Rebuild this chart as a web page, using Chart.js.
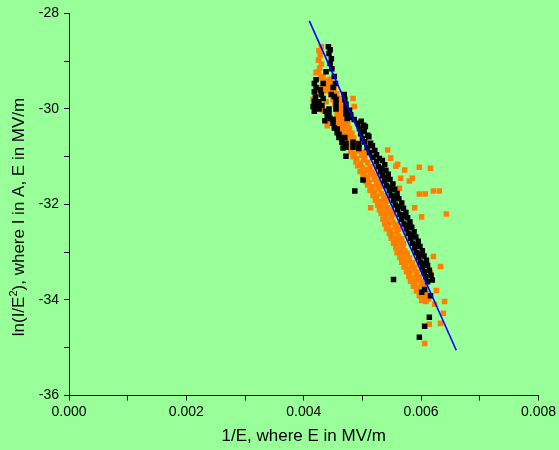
<!DOCTYPE html>
<html>
<head>
<meta charset="utf-8">
<script src="https://cdn.jsdelivr.net/npm/chart.js@4.4.1/dist/chart.umd.min.js"></script>
<style>
  html, body { margin: 0; padding: 0; background: #99FF99; }
  #wrap { width: 559px; height: 450px; }
</style>
</head>
<body>
<div id="wrap"><canvas id="fn" width="559" height="450"></canvas></div>
<script>
// Fowler-Nordheim plot: ln(I/E^2) against 1/E, two measurement runs plus fitted line

// axis ranges / ticks
var xMin = 0, xMax = 0.008, xStep = 0.001;
var yMin = -36, yMax = -28, yStep = 1;

var xTitle = '1/E, where E in MV/m';
var yTitleHead = 'ln(I/E', yTitleSup = '2', yTitleTail = '), where I in A, E in MV/m';

// run 1 (black)
var blackPoints = [
  [0.00442, -28.70], [0.00445, -28.76], [0.00443, -28.84], [0.00447, -28.95], [0.00445, -29.05],
  [0.00448, -29.16], [0.00438, -29.22], [0.00452, -29.32], [0.00433, -29.47], [0.00454, -29.47],
  [0.00450, -29.55], [0.00430, -29.70], [0.00447, -29.70], [0.00452, -29.74], [0.00469, -29.70],
  [0.00455, -29.80], [0.00470, -29.80], [0.00455, -29.90], [0.00472, -29.90], [0.00455, -30.00],
  [0.00472, -30.00], [0.00478, -30.03], [0.00472, -30.10], [0.00480, -30.12], [0.00474, -30.20],
  [0.00480, -30.18], [0.00486, -30.22],
  [0.00492, -30.30], [0.00498, -30.26], [0.00502, -30.34],
  [0.00495, -30.41], [0.00505, -30.37],
  [0.00497, -30.52], [0.00503, -30.47], [0.00509, -30.55],
  [0.00500, -30.62], [0.00511, -30.58],
  [0.00484, -30.70], [0.00494, -30.73], [0.00504, -30.69], [0.00514, -30.72],
  [0.00484, -30.80], [0.00494, -30.83], [0.00508, -30.81], [0.00517, -30.77],
  [0.00512, -30.91], [0.00521, -30.87],
  [0.00518, -31.01], [0.00524, -30.96], [0.00529, -31.04],
  [0.00524, -31.10], [0.00534, -31.08],
  [0.00527, -31.21], [0.00533, -31.24], [0.00538, -31.17],
  [0.00531, -31.31], [0.00540, -31.29],
  [0.00534, -31.40], [0.00540, -31.44], [0.00544, -31.37],
  [0.00538, -31.51], [0.00547, -31.48],
  [0.00541, -31.61], [0.00546, -31.64], [0.00552, -31.57],
  [0.00546, -31.71], [0.00555, -31.68],
  [0.00549, -31.81], [0.00554, -31.84], [0.00559, -31.77],
  [0.00553, -31.91], [0.00562, -31.88],
  [0.00556, -32.01], [0.00561, -32.04], [0.00567, -31.97],
  [0.00560, -32.11], [0.00570, -32.08],
  [0.00564, -32.21], [0.00568, -32.24], [0.00574, -32.17],
  [0.00567, -32.31], [0.00577, -32.28],
  [0.00571, -32.41], [0.00575, -32.44], [0.00581, -32.37],
  [0.00575, -32.51], [0.00584, -32.48],
  [0.00578, -32.61], [0.00583, -32.64], [0.00588, -32.57],
  [0.00582, -32.71], [0.00591, -32.68],
  [0.00585, -32.81], [0.00590, -32.84], [0.00595, -32.77],
  [0.00589, -32.91], [0.00598, -32.88],
  [0.00592, -33.01], [0.00597, -33.04], [0.00602, -32.97],
  [0.00596, -33.11], [0.00605, -33.08],
  [0.00599, -33.21], [0.00604, -33.24], [0.00609, -33.17],
  [0.00602, -33.31], [0.00611, -33.28],
  [0.00605, -33.41], [0.00614, -33.38],
  [0.00608, -33.51], [0.00617, -33.48],
  [0.00611, -33.62], [0.00619, -33.58],
  // left-hand strand of the upper cluster
  [0.00421, -29.39], [0.00418, -29.47], [0.00421, -29.55], [0.00418, -29.64], [0.00420, -29.75],
  [0.00418, -29.84], [0.00416, -29.95], [0.00423, -29.95], [0.00418, -30.05], [0.00426, -30.00],
  [0.00428, -29.60], [0.00433, -29.78], [0.00426, -29.85], [0.00431, -29.93], [0.00437, -30.05],
  [0.00440, -30.15], [0.00436, -30.25],
  [0.00443, -30.00], [0.00443, -30.10], [0.00445, -30.20], [0.00450, -30.22], [0.00450, -30.30],
  [0.00452, -30.40], [0.00457, -30.42], [0.00457, -30.50], [0.00460, -30.53], [0.00460, -30.60],
  [0.00465, -30.62], [0.00470, -30.60], [0.00465, -30.70], [0.00472, -30.72], [0.00467, -30.82],
  [0.00472, -30.80], [0.00472, -30.99],
  // stray points
  [0.00487, -31.72], [0.00501, -31.49], [0.00553, -33.57], [0.00601, -33.84], [0.00616, -33.91],
  [0.00606, -33.78], [0.00614, -34.36], [0.00606, -34.55], [0.00597, -34.78]
];

// run 2 (orange)
var orangePoints = [
  [0.00430, -28.70], [0.00426, -28.78], [0.00428, -28.88], [0.00425, -28.98], [0.00430, -29.06],
  [0.00427, -29.15], [0.00425, -29.22], [0.00421, -29.24], [0.00433, -29.32], [0.00429, -29.35],
  [0.00435, -29.40], [0.00441, -29.43], [0.00445, -29.38],
  [0.00438, -29.50], [0.00444, -29.53], [0.00449, -29.48],
  [0.00430, -29.55], [0.00436, -29.62], [0.00425, -29.70], [0.00438, -29.85], [0.00432, -30.02],
  [0.00446, -30.30], [0.00440, -30.35],
  [0.00442, -29.60], [0.00447, -29.62], [0.00452, -29.58],
  [0.00446, -29.70], [0.00451, -29.73], [0.00456, -29.68],
  [0.00416, -29.80], [0.00450, -29.80], [0.00455, -29.83], [0.00460, -29.78], [0.00484, -29.78],
  [0.00418, -29.90], [0.00453, -29.90], [0.00458, -29.92], [0.00464, -29.88], [0.00486, -29.95],
  [0.00455, -30.00], [0.00460, -30.03], [0.00466, -29.98],
  [0.00457, -30.10], [0.00462, -30.12], [0.00468, -30.08],
  [0.00456, -30.20], [0.00461, -30.22], [0.00467, -30.18], [0.00472, -30.21],
  [0.00458, -30.30], [0.00464, -30.33], [0.00470, -30.28], [0.00475, -30.31],
  [0.00461, -30.40], [0.00467, -30.42], [0.00473, -30.38], [0.00478, -30.41],
  [0.00464, -30.50], [0.00470, -30.53], [0.00476, -30.48], [0.00482, -30.51],
  [0.00466, -30.60], [0.00472, -30.62], [0.00478, -30.58], [0.00485, -30.61],
  [0.00470, -30.70], [0.00476, -30.73], [0.00482, -30.68], [0.00489, -30.71],
  [0.00474, -30.80], [0.00480, -30.82], [0.00487, -30.78], [0.00494, -30.81],
  [0.00480, -30.90], [0.00486, -30.93], [0.00493, -30.88], [0.00500, -30.91], [0.00507, -30.89],
  [0.00484, -31.00], [0.00490, -31.04], [0.00499, -30.97], [0.00504, -31.01],
  [0.00489, -31.11], [0.00497, -31.14], [0.00502, -31.07], [0.00509, -31.12],
  [0.00492, -31.19], [0.00500, -31.23], [0.00513, -31.21],
  [0.00496, -31.31], [0.00503, -31.34], [0.00508, -31.27], [0.00517, -31.32],
  [0.00501, -31.41], [0.00509, -31.43], [0.00514, -31.37], [0.00521, -31.40],
  [0.00506, -31.52], [0.00511, -31.54], [0.00520, -31.47], [0.00527, -31.51], [0.00533, -31.49],
  [0.00509, -31.59], [0.00517, -31.63], [0.00524, -31.58], [0.00530, -31.62],
  [0.00513, -31.71], [0.00521, -31.74], [0.00528, -31.67],
  [0.00518, -31.81], [0.00524, -31.83], [0.00532, -31.77], [0.00538, -31.82],
  [0.00522, -31.91], [0.00530, -31.94], [0.00536, -31.87], [0.00542, -31.92],
  [0.00526, -32.01], [0.00534, -32.03], [0.00539, -31.97],
  [0.00529, -32.11], [0.00537, -32.14], [0.00543, -32.07], [0.00548, -32.12],
  [0.00532, -32.19], [0.00539, -32.23], [0.00546, -32.17], [0.00551, -32.22],
  [0.00535, -32.31], [0.00542, -32.34], [0.00549, -32.27],
  [0.00538, -32.41], [0.00544, -32.43], [0.00552, -32.37], [0.00558, -32.42],
  [0.00541, -32.51], [0.00548, -32.54], [0.00556, -32.47], [0.00561, -32.52],
  [0.00546, -32.61], [0.00552, -32.63], [0.00559, -32.57],
  [0.00549, -32.71], [0.00556, -32.74], [0.00562, -32.67], [0.00567, -32.72],
  [0.00553, -32.81], [0.00560, -32.83], [0.00565, -32.77], [0.00570, -32.82],
  [0.00557, -32.91], [0.00563, -32.94], [0.00569, -32.87],
  [0.00559, -33.01], [0.00566, -33.03], [0.00572, -32.97], [0.00576, -33.02],
  [0.00564, -33.11], [0.00570, -33.14], [0.00576, -33.07], [0.00580, -33.12],
  [0.00567, -33.21], [0.00574, -33.23], [0.00580, -33.17], [0.00585, -33.22],
  [0.00571, -33.31], [0.00578, -33.34], [0.00584, -33.27], [0.00589, -33.32],
  [0.00575, -33.41], [0.00581, -33.43], [0.00588, -33.37], [0.00593, -33.42],
  [0.00579, -33.51], [0.00586, -33.54], [0.00592, -33.47], [0.00597, -33.52],
  [0.00582, -33.61], [0.00589, -33.63], [0.00596, -33.57], [0.00601, -33.62],
  [0.00587, -33.71], [0.00594, -33.74], [0.00600, -33.67], [0.00605, -33.72],
  [0.00592, -33.81], [0.00599, -33.83], [0.00604, -33.77],
  [0.00597, -33.91], [0.00603, -33.93], [0.00609, -33.87],
  [0.00601, -34.01], [0.00608, -34.03], [0.00613, -33.97],
  // stray points
  [0.00543, -30.86], [0.00548, -31.03], [0.00557, -31.20], [0.00560, -31.16], [0.00597, -31.22],
  [0.00616, -31.24], [0.00572, -31.28], [0.00565, -31.45], [0.00580, -31.51], [0.00585, -31.45],
  [0.00597, -31.78], [0.00607, -31.78], [0.00621, -31.72], [0.00631, -31.72], [0.00563, -31.66],
  [0.00514, -32.07], [0.00589, -32.07], [0.00601, -32.26], [0.00643, -32.20], [0.00621, -33.09],
  [0.00633, -33.30], [0.00616, -33.43], [0.00611, -33.99], [0.00626, -33.80], [0.00640, -34.03],
  [0.00623, -34.09], [0.00638, -34.28], [0.00614, -34.51], [0.00633, -34.49], [0.00606, -34.91]
];

// linear fit, end points
var fitLine = [[0.004095, -28.156], [0.006599, -35.052]];

var bgColor = '#99FF99';
var tickFont = { family: '"Liberation Sans", Arial, sans-serif', size: 14 };
var titleFontSize = 17;

var axisTitles = {
    id: 'axisTitles',
    beforeDraw: function (chart) {
        var ctx = chart.ctx;
        ctx.save();
        ctx.fillStyle = bgColor;
        ctx.fillRect(0, 0, chart.width, chart.height);
        ctx.restore();
    },
    afterDraw: function (chart) {
        var ctx = chart.ctx, area = chart.chartArea;
        var big = titleFontSize + 'px "Liberation Sans", Arial, sans-serif';
        var small = '11px "Liberation Sans", Arial, sans-serif';
        ctx.save();
        ctx.fillStyle = '#000';
        ctx.textBaseline = 'alphabetic';

        ctx.font = big;
        ctx.textAlign = 'center';
        ctx.fillText(xTitle, (area.left + area.right) / 2, 441);

        // y title with the superscript drawn raised
        ctx.translate(24, 217);
        ctx.rotate(-Math.PI / 2);
        ctx.textAlign = 'left';
        var w1 = ctx.measureText(yTitleHead).width;
        var w3 = ctx.measureText(yTitleTail).width;
        ctx.font = small;
        var w2 = ctx.measureText(yTitleSup).width;
        var start = -(w1 + w2 + w3) / 2;
        ctx.font = big;
        ctx.fillText(yTitleHead, start, 0);
        ctx.font = small;
        ctx.fillText(yTitleSup, start + w1, -7);
        ctx.font = big;
        ctx.fillText(yTitleTail, start + w1 + w2, 0);
        ctx.restore();
    }
};

var axisLook = {
    grid: { display: true, drawOnChartArea: false, drawTicks: true, tickLength: 5, color: '#000', lineWidth: 1 },
    border: { display: true, color: '#000', width: 1 }
};

new Chart(document.getElementById('fn'), {
    type: 'scatter',
    data: {
        datasets: [
            {
                type: 'line',
                data: fitLine,
                borderColor: '#0000FF',
                borderWidth: 1.6,
                pointRadius: 0,
                fill: false,
                order: 0
            },
            {
                data: blackPoints,
                pointStyle: 'rect',
                pointRadius: 3.9,
                pointBorderWidth: 0,
                backgroundColor: '#000000',
                borderColor: '#000000',
                order: 1
            },
            {
                data: orangePoints,
                pointStyle: 'rect',
                pointRadius: 3.9,
                pointBorderWidth: 0,
                backgroundColor: '#FF8000',
                borderColor: '#FF8000',
                order: 2
            }
        ]
    },
    options: {
        responsive: false,
        animation: false,
        events: [],
        layout: { padding: { top: 11, right: 17, bottom: 0, left: 0 } },
        plugins: { legend: { display: false }, tooltip: { enabled: false } },
        scales: {
            x: Object.assign({
                type: 'linear',
                min: xMin,
                max: xMax,
                afterFit: function (scale) { scale.height = 54.5; },
                ticks: {
                    stepSize: xStep,
                    autoSkip: false,
                    maxRotation: 0,
                    padding: 3,
                    color: '#000',
                    font: tickFont,
                    callback: function (v) {
                        return Math.round(v * 1000) % 2 === 0 ? v.toFixed(3) : '';
                    }
                }
            }, axisLook),
            y: Object.assign({
                type: 'linear',
                min: yMin,
                max: yMax,
                afterFit: function (scale) { scale.width = 69; },
                ticks: {
                    stepSize: yStep,
                    autoSkip: false,
                    padding: 5,
                    color: '#000',
                    font: tickFont,
                    callback: function (v) {
                        return Math.round(v) % 2 === 0 ? String(Math.round(v)) : '';
                    }
                }
            }, axisLook)
        }
    },
    plugins: [axisTitles]
});
</script>
</body>
</html>
